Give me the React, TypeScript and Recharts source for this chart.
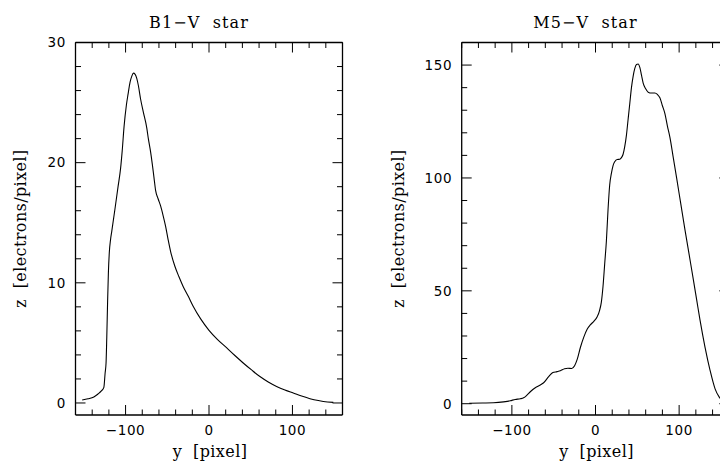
import React from 'react';
import { LineChart, Line, XAxis, YAxis } from 'recharts';

// B1-V star profile: y [pixel] vs z [electrons/pixel]
const B1_Y = [
  -152, -145, -138, -133, -129, -126, -124.5, -123.4, -122.5, -121.5, -120.6, -119.5, -118, -116.5,
  -113, -109, -106, -104, -101.8, -99, -97, -94.6, -92.5, -90.6, -88.5, -86.5, -84.6, -82, -78.7,
  -74.6, -72.7, -70, -68, -66, -64, -61, -58, -55, -52, -49, -46, -41, -36, -31, -25, -19, -10,
  0, 10, 21, 31, 41, 51, 61, 71, 81, 91, 101, 111, 121, 131, 137, 149,
];
const B1_Z = [
  0.25, 0.35, 0.5, 0.75, 1.0, 1.3, 2.5, 3.3, 5.5, 8.5, 10.8, 12.5, 13.6, 14.3,
  16, 18, 19.5, 21, 23, 24.8, 25.7, 26.7, 27.2, 27.45, 27.35, 27, 26.4, 25.3, 24.2,
  22.9, 22.0, 20.9, 19.9, 18.8, 17.7, 17.0, 16.4, 15.6, 14.7, 13.6, 12.6, 11.4, 10.5, 9.7, 8.9, 8.05, 7.0,
  6.05, 5.3, 4.6, 3.95, 3.33, 2.75, 2.2, 1.75, 1.38, 1.08, 0.83, 0.58, 0.36, 0.2, 0.13, 0.05,
];

// M5-V star profile
const M5_Y = [
  -151, -135, -122, -110, -102, -96, -90, -86, -82, -78, -72, -66, -62, -56, -51, -46, -42, -37, -33,
  -28.5, -25, -22, -18, -14, -10, -6, -2, 2, 5, 7, 9, 11, 13, 15, 17, 19, 21, 23, 26, 29, 31, 33, 35,
  37, 39, 41, 43, 45, 47, 49, 51, 53, 55, 57, 60, 63, 67, 71, 74, 77, 80, 83, 86, 89, 93, 97, 102,
  107, 112, 117, 121, 125, 131, 137, 143, 148, 152, 156,
];
const M5_Z = [
  0.2, 0.3, 0.4, 0.8, 1.3, 1.9, 2.2, 2.6, 3.8, 5.3, 7.1, 8.3, 9.3, 12, 13.8, 14.2, 14.6, 15.5, 15.7,
  15.6, 16.8, 19.5, 25, 29.5, 33, 35, 36.5, 38.5, 41.5, 45, 52, 62, 72, 86, 97, 102, 105.5, 107.2, 108.2, 108.3, 109, 110.5, 114,
  119, 126, 133, 140, 145, 148.5, 150.3, 150.5, 149, 145.5, 142, 139.5, 138, 137.6, 137.6, 137, 135.5, 132, 128.5, 123, 118, 109, 100, 88.5,
  77, 66, 55, 46, 37, 25, 14.8, 6.6, 2.9, 1.3, 0.6,
];

const X_TICKS = [-160, -140, -120, -100, -80, -60, -40, -20, 0, 20, 40, 60, 80, 100, 120, 140, 160];
const X_TICK_LABELS = [-100, 0, 100];
const B1_Z_TICKS = [0, 2, 4, 6, 8, 10, 12, 14, 16, 18, 20, 22, 24, 26, 28, 30];
const B1_Z_TICK_LABELS = [0, 10, 20, 30];
const M5_Z_TICKS = [0, 10, 20, 30, 40, 50, 60, 70, 80, 90, 100, 110, 120, 130, 140, 150, 160];
const M5_Z_TICK_LABELS = [0, 50, 100, 150];

const MAJOR = 10;
const MINOR = 5.5;
const SERIF = '"DejaVu Serif", serif';
const SANS = '"DejaVu Sans", sans-serif';
const TICK_FONT = 13.5;
const axisLine = { stroke: '#000', strokeWidth: 1.3 };
const pre = { whiteSpace: 'pre' as const };

const fmt = (v: number) => (v < 0 ? '\u2212' + Math.abs(v) : String(v));

function BottomTick(props: any) {
  const { x, y, payload, labels } = props;
  const major = labels.includes(payload.value);
  return (
    <g>
      <line x1={x} y1={y} x2={x} y2={y - (major ? MAJOR : MINOR)} stroke="#000" strokeWidth={1} />
      {major && (
        <text x={x} y={y + 19.5} textAnchor="middle" fontFamily={SANS} fontSize={TICK_FONT} letterSpacing={0.6} fill="#000">
          {fmt(payload.value)}
        </text>
      )}
    </g>
  );
}

function TopTick(props: any) {
  const { x, y, payload, labels } = props;
  const major = labels.includes(payload.value);
  return <line x1={x} y1={y} x2={x} y2={y + (major ? MAJOR : MINOR)} stroke="#000" strokeWidth={1} />;
}

function LeftTick(props: any) {
  const { x, y, payload, labels } = props;
  const major = labels.includes(payload.value);
  return (
    <g>
      <line x1={x} y1={y} x2={x + (major ? MAJOR : MINOR)} y2={y} stroke="#000" strokeWidth={1} />
      {major && (
        <text x={x - 9.5} y={y + 4.8} textAnchor="end" fontFamily={SANS} fontSize={TICK_FONT} letterSpacing={0.6} fill="#000">
          {fmt(payload.value)}
        </text>
      )}
    </g>
  );
}

function RightTick(props: any) {
  const { x, y, payload, labels } = props;
  const major = labels.includes(payload.value);
  return <line x1={x} y1={y} x2={x - (major ? MAJOR : MINOR)} y2={y} stroke="#000" strokeWidth={1} />;
}

type PanelProps = {
  title: string;
  ys: number[];
  zs: number[];
  zDomain: [number, number];
  zTicks: number[];
  zLabels: number[];
  width: number;
  yAxisWidth: number;
  marginRight: number;
  zLabelGap: number;
};

function Panel({ title, ys, zs, zDomain, zTicks, zLabels, width, yAxisWidth, marginRight, zLabelGap }: PanelProps) {
  const data = ys.map((y, i) => ({ y, z: zs[i] }));
  const xDomain: [number, number] = [-160, 160];
  return (
    <LineChart width={width} height={465} data={data} margin={{ top: 41.5, right: marginRight, bottom: 0, left: 0 }}>
      <XAxis
        dataKey="y"
        type="number"
        domain={xDomain}
        ticks={X_TICKS}
        interval={0}
        allowDataOverflow
        height={50}
        tickSize={0}
        tickMargin={0}
        tickLine={false}
        axisLine={axisLine}
        tick={(p: any) => <BottomTick {...p} labels={X_TICK_LABELS} />}
        label={{
          value: 'y  [pixel]',
          content: (p: any) => (
            <text
              x={p.viewBox.x + p.viewBox.width / 2 + 1}
              y={p.viewBox.y + 42}
              textAnchor="middle"
              fontFamily={SERIF}
              fontSize={16}
              letterSpacing={0.4}
              fill="#000"
              style={pre}
            >
              {'y  [pixel]'}
            </text>
          ),
        }}
      />
      <XAxis
        xAxisId="top"
        dataKey="y"
        type="number"
        orientation="top"
        domain={xDomain}
        ticks={X_TICKS}
        interval={0}
        allowDataOverflow
        height={1}
        tickSize={0}
        tickMargin={0}
        tickLine={false}
        axisLine={axisLine}
        tick={(p: any) => <TopTick {...p} labels={X_TICK_LABELS} />}
        label={{
          value: title,
          content: (p: any) => (
            <text
              x={p.viewBox.x + p.viewBox.width / 2 - 10}
              y={p.viewBox.y + p.viewBox.height - 14.5}
              textAnchor="middle"
              fontFamily={SERIF}
              fontSize={16}
              letterSpacing={1.1}
              fill="#000"
              style={pre}
            >
              {title}
            </text>
          ),
        }}
      />
      <YAxis
        dataKey="z"
        type="number"
        domain={zDomain}
        ticks={zTicks}
        interval={0}
        allowDataOverflow
        width={yAxisWidth}
        tickSize={0}
        tickMargin={0}
        tickLine={false}
        axisLine={axisLine}
        tick={(p: any) => <LeftTick {...p} labels={zLabels} />}
        label={{
          value: 'z [electrons/pixel]',
          content: (p: any) => {
            const cx = p.viewBox.x + p.viewBox.width - zLabelGap;
            const cy = p.viewBox.y + p.viewBox.height / 2;
            return (
              <text
                x={cx}
                y={cy}
                transform={`rotate(-90, ${cx}, ${cy})`}
                textAnchor="middle"
                fontFamily={SERIF}
                fontSize={16}
                letterSpacing={0.4}
                fill="#000"
                style={pre}
              >
                {'z  [electrons/pixel]'}
              </text>
            );
          },
        }}
      />
      <YAxis
        yAxisId="right"
        dataKey="z"
        type="number"
        orientation="right"
        domain={zDomain}
        ticks={zTicks}
        interval={0}
        allowDataOverflow
        width={1}
        tickSize={0}
        tickMargin={0}
        tickLine={false}
        axisLine={axisLine}
        tick={(p: any) => <RightTick {...p} labels={zLabels} />}
      />
      <Line
        xAxisId="top"
        yAxisId="right"
        dataKey="z"
        stroke="none"
        dot={false}
        activeDot={false}
        isAnimationActive={false}
      />
      <Line type="monotone" dataKey="z" stroke="#000" strokeWidth={1.1} dot={false} activeDot={false} isAnimationActive={false} />
    </LineChart>
  );
}

export default function App() {
  return (
    <div style={{ position: 'fixed', left: 0, top: 0, width: 720, height: 465, overflow: 'hidden', background: '#fff' }}>
      <div style={{ position: 'absolute', left: 0, top: 0 }}>
        <Panel
          title={'B1\u2212V  star'}
          ys={B1_Y}
          zs={B1_Z}
          zDomain={[-1, 30]}
          zTicks={B1_Z_TICKS}
          zLabels={B1_Z_TICK_LABELS}
          width={360}
          yAxisWidth={75.5}
          marginRight={16.5}
          zLabelGap={50}
        />
      </div>
      <div style={{ position: 'absolute', left: 360, top: 0 }}>
        <Panel
          title={'M5\u2212V  star'}
          ys={M5_Y}
          zs={M5_Z}
          zDomain={[-5, 160]}
          zTicks={M5_Z_TICKS}
          zLabels={M5_Z_TICK_LABELS}
          width={400}
          yAxisWidth={101.7}
          marginRight={29.7}
          zLabelGap={58}
        />
      </div>
    </div>
  );
}
